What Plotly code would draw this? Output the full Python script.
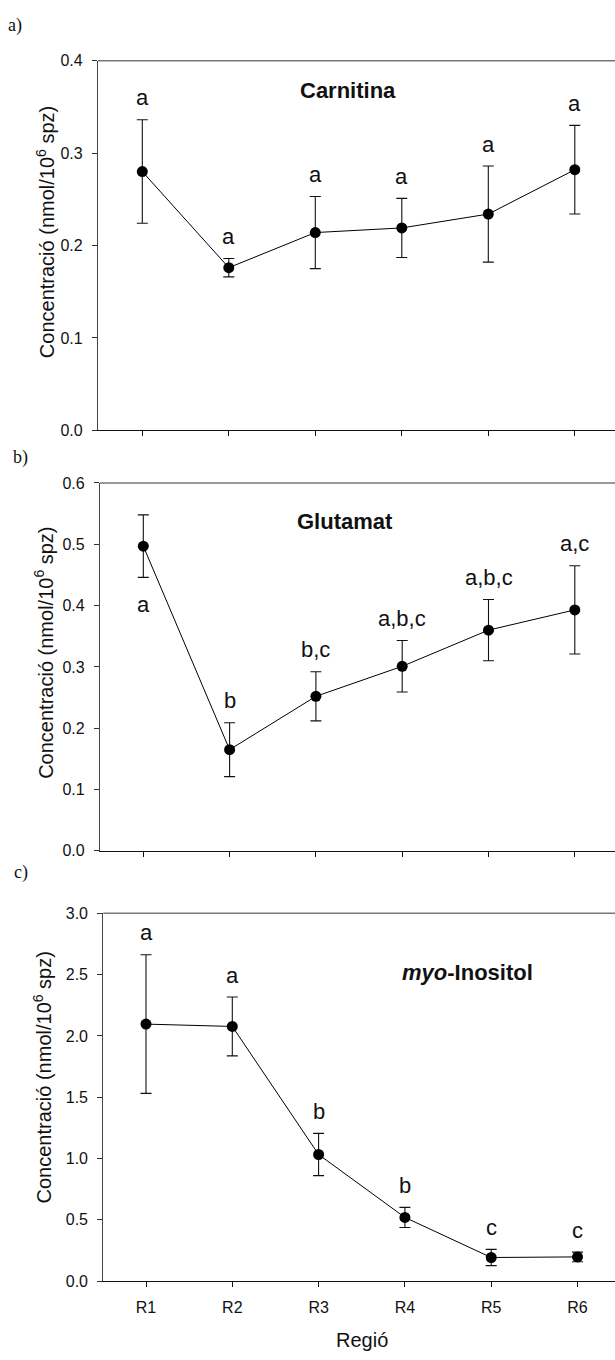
import plotly.graph_objects as go

# ---------------- data ----------------
regions = ["R1", "R2", "R3", "R4", "R5", "R6"]

carnitina_mean = [0.280, 0.176, 0.214, 0.219, 0.234, 0.282]
carnitina_err = [0.056, 0.010, 0.039, 0.032, 0.052, 0.048]
carnitina_letters = ["a", "a", "a", "a", "a", "a"]

glutamat_mean = [0.497, 0.165, 0.252, 0.301, 0.360, 0.393]
glutamat_err = [0.051, 0.044, 0.040, 0.042, 0.050, 0.072]
glutamat_letters = ["a", "b", "b,c", "a,b,c", "a,b,c", "a,c"]

inositol_mean = [2.096, 2.077, 1.033, 0.520, 0.193, 0.198]
inositol_err = [0.565, 0.240, 0.172, 0.082, 0.066, 0.039]
inositol_letters = ["a", "a", "b", "b", "c", "c"]

yticks_a = [0.0, 0.1, 0.2, 0.3, 0.4]
yticks_b = [0.0, 0.1, 0.2, 0.3, 0.4, 0.5, 0.6]
yticks_c = [0.0, 0.5, 1.0, 1.5, 2.0, 2.5, 3.0]

titles = ["<b>Carnitina</b>", "<b>Glutamat</b>", "<b><i>myo</i>-Inositol</b>"]
panel_tags = ["a)", "b)", "c)"]
ytitle = "Concentració (nmol/10<sup>6</sup> spz)"
xtitle = "Regió"

# ---------------- layout helpers ----------------
W, H = 615, 1360
FONT = "Liberation Sans, Arial, sans-serif"
SERIF = "Liberation Serif, Times New Roman, serif"


def px(x):
    return x / W


def py(y):
    return 1 - y / H


panels = [
    dict(left=98, r1=142.3, sp=86.5, top=53.3, bot=427.7, ymax=0.4, ticks=yticks_a,
         mean=carnitina_mean, err=carnitina_err, letters=carnitina_letters,
         title_xy=(348, 84), tag_xy=(6, 18), ytitle_xy=(45, 227), below={}),
    dict(left=100, r1=143.3, sp=86.3, top=481.0, bot=853.5, ymax=0.6, ticks=yticks_b,
         mean=glutamat_mean, err=glutamat_err, letters=glutamat_letters,
         title_xy=(345, 520), tag_xy=(11, 455), ytitle_xy=(44, 653), below={0: True}),
    dict(left=103.3, r1=146.0, sp=86.3, top=916.7, bot=1289.3, ymax=3.0, ticks=yticks_c,
         mean=inositol_mean, err=inositol_err, letters=inositol_letters,
         title_xy=(467, 977), tag_xy=(12, 875), ytitle_xy=(42, 1083), below={}),
]

fig = go.Figure()
annotations = []
shapes = []

for i, p in enumerate(panels):
    n = i + 1
    xa = "x" if n == 1 else f"x{n}"
    ya = "y" if n == 1 else f"y{n}"
    xkey = "xaxis" if n == 1 else f"xaxis{n}"
    ykey = "yaxis" if n == 1 else f"yaxis{n}"

    xs = list(range(len(regions)))
    fig.add_trace(go.Scatter(
        x=xs, y=p["mean"], xaxis=xa, yaxis=ya,
        mode="lines+markers",
        line=dict(color="black", width=1),
        marker=dict(color="black", size=11),
        error_y=dict(type="data", array=p["err"], visible=True,
                     color="#111", thickness=1.1, width=5.5),
        showlegend=False, hoverinfo="skip",
    ))

    lo = -(p["r1"] - p["left"]) / p["sp"]
    hi = (W - p["r1"]) / p["sp"]
    last = (n == 3)
    xdict = dict(
        domain=[px(p["left"]), 1.0], range=[lo, hi], anchor=ya,
        tickmode="array", tickvals=xs,
        showticklabels=last, ticks="outside", ticklen=5, tickwidth=1, tickcolor="#111",
        showline=True, linecolor="#111", linewidth=1.2, showgrid=False, zeroline=False,
        tickfont=dict(family=FONT, size=16, color="#111"), ticklabelstandoff=7,
        fixedrange=True,
    )
    if last:
        xdict["ticktext"] = regions
    fig.layout[xkey] = xdict
    fig.layout[ykey] = dict(
        domain=[py(p["bot"]), py(p["top"])], range=[0, p["ymax"]], anchor=xa,
        tickmode="array", tickvals=p["ticks"], ticktext=[f"{t:.1f}" for t in p["ticks"]],
        ticks="outside", ticklen=5, tickwidth=1, tickcolor="#333",
        showline=True, linecolor="#444", linewidth=1.2, showgrid=False, zeroline=False,
        tickfont=dict(family=FONT, size=16, color="#111"), ticklabelstandoff=6,
        fixedrange=True,
    )
    shapes.append(dict(type="line", xref=f"{xa} domain", yref=f"{ya} domain",
                       x0=0, x1=1, y0=1, y1=1, line=dict(color="#777", width=1.5)))

    for k, (m, e, lab) in enumerate(zip(p["mean"], p["err"], p["letters"])):
        if p["below"].get(k):
            yv, ys = m - e, -27
        else:
            yv, ys = m + e, 22
        annotations.append(dict(
            x=k, y=yv, xref=xa, yref=ya, text=lab, showarrow=False,
            xanchor="center", yanchor="middle", yshift=ys,
            font=dict(family=FONT, size=22, color="#111")))

    annotations.append(dict(
        x=px(p["title_xy"][0]), y=py(p["title_xy"][1]), xref="paper", yref="paper",
        text=titles[i], showarrow=False, xanchor="center", yanchor="middle",
        font=dict(family=FONT, size=22, color="#111")))
    annotations.append(dict(
        x=px(p["tag_xy"][0]), y=py(p["tag_xy"][1]), xref="paper", yref="paper",
        text=panel_tags[i], showarrow=False, xanchor="left", yanchor="middle",
        font=dict(family=SERIF, size=18, color="#111")))
    annotations.append(dict(
        x=px(p["ytitle_xy"][0]), y=py(p["ytitle_xy"][1]), xref="paper", yref="paper",
        text=ytitle, showarrow=False, xanchor="center", yanchor="middle", textangle=-90,
        font=dict(family=FONT, size=20, color="#111")))

annotations.append(dict(
    x=px(362), y=py(1349), xref="paper", yref="paper", text=xtitle, showarrow=False,
    xanchor="center", yanchor="middle", font=dict(family=FONT, size=20, color="#111")))

fig.update_layout(
    width=W, height=H,
    margin=dict(l=0, r=0, t=0, b=0),
    paper_bgcolor="white", plot_bgcolor="white",
    annotations=annotations, shapes=shapes,
    font=dict(family=FONT, color="#111"),
)

fig.write_html("out.html", config={"displayModeBar": False},
               post_script="document.body.style.margin='0px';")
